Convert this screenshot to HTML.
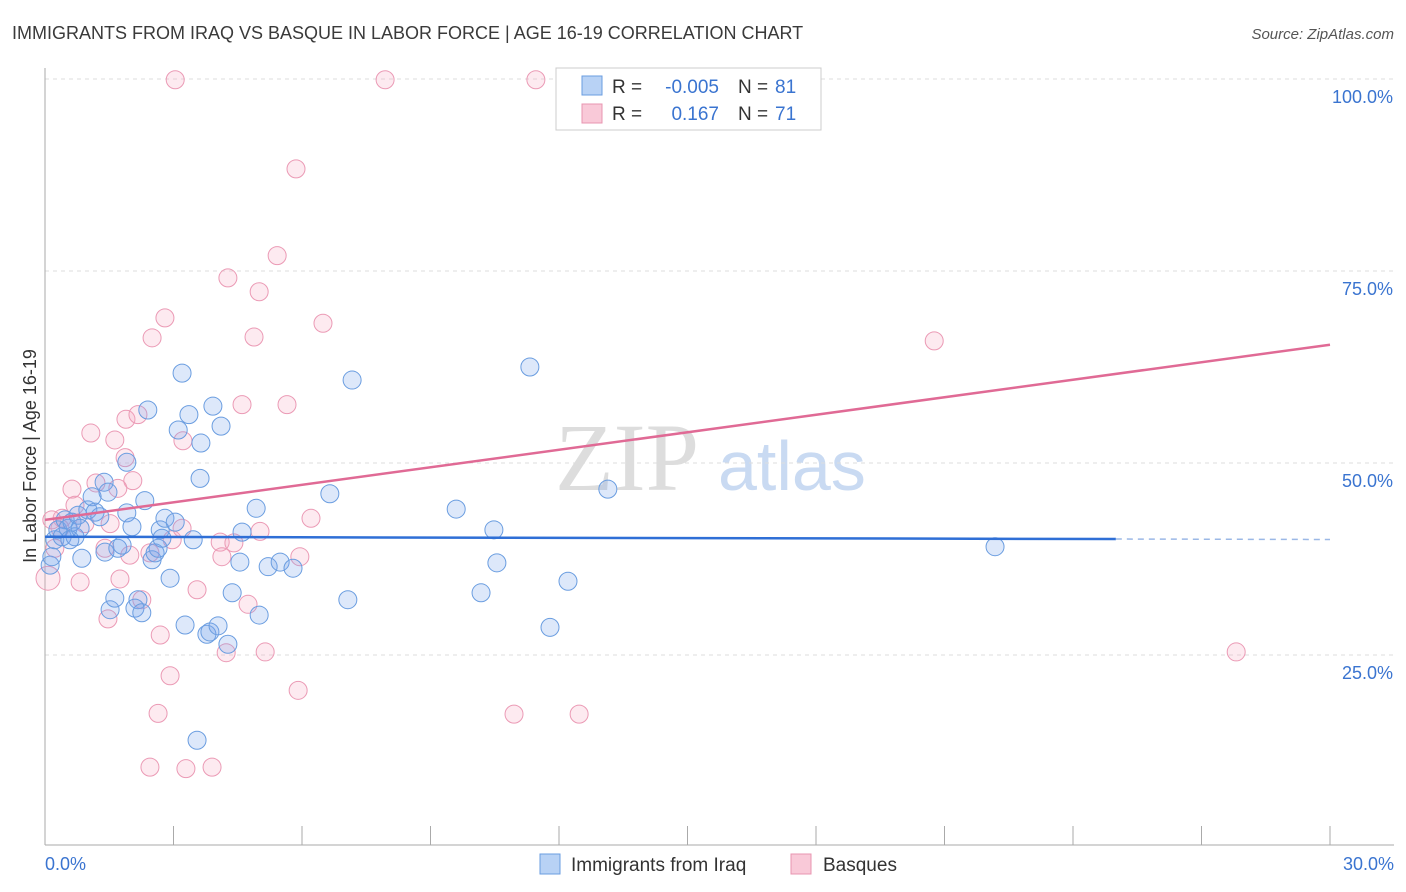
<!DOCTYPE html>
<html><head><meta charset="utf-8">
<style>
body{margin:0;background:#fff;font-family:"Liberation Sans",sans-serif;}
svg{display:block}
</style></head>
<body>
<svg id="chart" width="1406" height="892">
<text x="12" y="39" font-size="18" fill="#3a3a3a">IMMIGRANTS FROM IRAQ VS BASQUE IN LABOR FORCE | AGE 16-19 CORRELATION CHART</text>
<text x="1394" y="39" font-size="15" fill="#555" font-style="italic" text-anchor="end">Source: ZipAtlas.com</text>
<text x="36" y="456" font-size="18" fill="#333" text-anchor="middle" transform="rotate(-90 36 456)">In Labor Force | Age 16-19</text>
<text x="555" y="490" font-size="96" fill="#ddd" font-family="Liberation Serif,serif">ZIP</text>
<text x="718" y="490" font-size="70" fill="#c9daf2">atlas</text>
<g id="grid"></g><g id="pts"></g><g id="lines"></g>
<g>
<rect x="556" y="68" width="265" height="62" fill="#fff" stroke="#ccc"/>
<rect x="582" y="76" width="20" height="19" fill="#b8d2f5" stroke="#6a9de0"/>
<rect x="582" y="104" width="20" height="19" fill="#f9c9d8" stroke="#e895b0"/>
<text x="612" y="93" font-size="19" fill="#333">R =</text>
<text x="719" y="93" font-size="19" fill="#3a74d0" text-anchor="end">-0.005</text>
<text x="738" y="93" font-size="19" fill="#333">N =</text>
<text x="775" y="93" font-size="19" fill="#3a74d0">81</text>
<text x="612" y="120" font-size="19" fill="#333">R =</text>
<text x="719" y="120" font-size="19" fill="#3a74d0" text-anchor="end">0.167</text>
<text x="738" y="120" font-size="19" fill="#333">N =</text>
<text x="775" y="120" font-size="19" fill="#3a74d0">71</text>
</g>
<g>
<rect x="540" y="854" width="20" height="20" fill="#b8d2f5" stroke="#6a9de0"/>
<text x="571" y="871" font-size="19" fill="#333">Immigrants from Iraq</text>
<rect x="791" y="854" width="20" height="20" fill="#f9c9d8" stroke="#e895b0"/>
<text x="823" y="871" font-size="19" fill="#333">Basques</text>
</g>
</svg>
<script>
const blueX=[0.12,0.16,0.23,0.30,0.40,0.47,0.54,0.63,0.70,0.77,0.86,1.00,1.10,1.17,1.28,1.38,1.47,1.40,1.52,1.63,1.70,1.80,1.91,1.91,2.03,2.17,2.10,2.26,2.33,2.40,2.50,2.57,2.64,2.69,2.73,2.80,2.92,3.04,3.11,3.20,3.27,3.36,3.46,3.62,3.64,3.78,3.85,3.92,4.04,4.11,4.27,4.37,4.55,4.60,4.93,5.00,5.21,5.49,5.79,6.65,7.07,7.17,9.60,10.18,10.48,10.55,11.32,11.79,12.21,13.14,22.18,3.55,0.82,0.58];
const blueY=[36.7,37.8,40.0,41.3,40.4,42.6,41.5,42.3,40.4,43.2,37.6,43.9,45.6,43.6,43.0,47.5,46.2,38.4,30.9,32.4,38.9,39.3,43.5,50.1,41.7,32.2,31.1,30.5,45.1,56.9,37.4,38.3,38.9,41.3,40.2,42.8,35.0,42.3,54.3,61.7,28.9,56.3,40.0,48.0,52.6,27.7,28.0,57.4,28.8,54.8,26.4,33.1,37.1,41.0,44.1,30.2,36.5,37.1,36.3,46.0,32.2,60.8,44.0,33.1,41.3,37.0,62.5,28.6,34.6,46.6,39.1,13.9,41.5,40.0];
const pinkX=[3.04,7.94,11.46,14.29,5.86,5.42,4.27,5.00,6.49,2.80,2.50,4.88,20.76,4.60,5.65,1.89,2.17,1.07,1.63,3.22,1.87,2.05,0.63,1.19,1.70,0.40,0.70,0.93,1.52,2.45,1.75,0.82,1.47,2.26,2.69,3.55,2.92,4.23,5.14,5.91,2.64,2.45,3.29,3.90,10.95,12.47,27.81,4.74,4.09,4.41,5.02,5.95,6.21,0.07,0.23,0.35,1.40,1.98,2.97,3.20,4.13,0.16];
const pinkY=[99.9,99.9,99.9,99.9,88.3,77.0,74.1,72.3,68.2,68.9,66.3,66.4,65.9,57.6,57.6,55.7,56.3,53.9,53.0,52.9,50.7,47.7,46.6,47.4,46.7,42.8,44.5,42.1,42.1,38.3,34.9,34.5,29.7,32.2,27.6,33.5,22.3,25.3,25.4,20.4,17.4,10.4,10.2,10.4,17.3,17.3,25.4,31.6,39.7,39.6,41.1,37.8,42.8,35.0,38.9,41.5,38.9,38.0,40.0,41.5,37.8,42.6];
const blueTrend=[40.4,40.1]; // at x=0 and x=25
const pinkTrend=[42.6,65.4]; // at x=0 and x=30
const yTicks=[25,50,75,100];
const yLabels=["25.0%","50.0%","75.0%","100.0%"];
const xTicks=[0,3,6,9,12,15,18,21,24,27,30];
const NS="http://www.w3.org/2000/svg";
const X=v=>45+v*(1285/30), Y=v=>847-v*7.68;
function mk(t,a,p){const e=document.createElementNS(NS,t);for(const k in a)e.setAttribute(k,a[k]);p.appendChild(e);return e;}
const grid=document.getElementById('grid');
yTicks.forEach((t,i)=>{
 const l=mk('line',{x1:45,x2:1394,y1:Y(t),y2:Y(t),stroke:'#ddd','stroke-dasharray':'4,4'},grid);
 
 
 const tx=mk('text',{x:1393,y:Y(t)+24,'font-size':18,fill:'#3a74d0','text-anchor':'end'},grid);
 tx.textContent=yLabels[i];
 
 
});
const tl=mk('line',{x1:45,x2:1394,y1:79,y2:79,stroke:'#ddd','stroke-dasharray':'4,4'},grid);


const ya=mk('line',{x1:45,x2:45,y1:68,y2:845,stroke:'#aaa'},grid);


const xa=mk('line',{x1:45,x2:1394,y1:845,y2:845,stroke:'#aaa'},grid);


xTicks.forEach(t=>{
 const l=mk('line',{x1:X(t),x2:X(t),y1:826,y2:845,stroke:'#aaa'},grid);
 
 
});
const x0=mk('text',{x:45,y:870,'font-size':18,fill:'#3a74d0'},grid);x0.textContent='0.0%';


const x1=mk('text',{x:1394,y:870,'font-size':18,fill:'#3a74d0','text-anchor':'end'},grid);x1.textContent='30.0%';


const pts=document.getElementById('pts');
pinkX.forEach((x,i)=>{
 const c=mk('circle',{cx:X(x),cy:Y(pinkY[i]),r:i==53?12:9,fill:'rgba(246,170,196,0.25)',stroke:'#eb9ab5','stroke-width':1},pts);
 
 
});
blueX.forEach((x,i)=>{
 const c=mk('circle',{cx:X(x),cy:Y(blueY[i]),r:9,fill:'rgba(120,165,235,0.25)',stroke:'#6a9de0','stroke-width':1},pts);
 
 
});
const lines=document.getElementById('lines');
const slopeB=(blueTrend[1]-blueTrend[0])/25;
const b1=mk('line',{x1:X(0),y1:Y(blueTrend[0]),x2:X(25),y2:Y(blueTrend[1]),stroke:'#2f6fd6','stroke-width':2.5},lines);


const b2=mk('line',{x1:X(25),y1:Y(blueTrend[1]),x2:X(30),y2:Y(blueTrend[0]+slopeB*30),stroke:'#9bb8e6','stroke-width':1.5,'stroke-dasharray':'6,5'},lines);


const p1=mk('line',{x1:X(0),y1:Y(pinkTrend[0]),x2:X(30),y2:Y(pinkTrend[1]),stroke:'#e06a95','stroke-width':2.5},lines);


</script>
</body></html>
